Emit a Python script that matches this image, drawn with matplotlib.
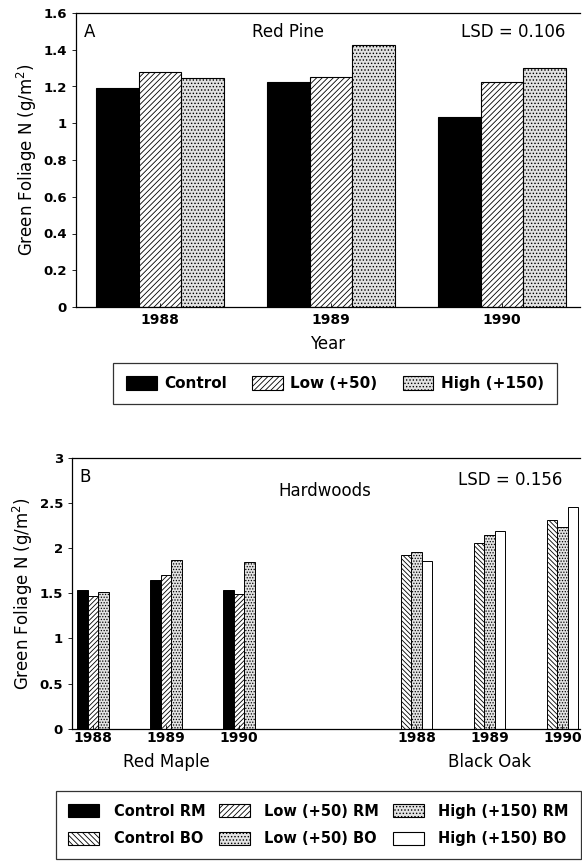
import numpy as np
import matplotlib
matplotlib.use("Agg")
import matplotlib.pyplot as plt
from matplotlib.patches import Patch

plt.rcParams['font.family'] = ['DejaVu Sans']
plt.rcParams['hatch.linewidth'] = 0.6

# Panel A: red pine foliage N by year
years = ['1988', '1989', '1990']
pine_control = [1.19, 1.226, 1.036]
pine_low = [1.277, 1.253, 1.223]
pine_high = [1.245, 1.426, 1.303]

# Panel B: hardwoods (red maple, black oak)
rm_control = [1.54, 1.65, 1.54]
rm_low = [1.475, 1.70, 1.49]
rm_high = [1.51, 1.87, 1.85]
bo_control = [1.93, 2.06, 2.31]
bo_low = [1.96, 2.145, 2.24]
bo_high = [1.86, 2.19, 2.455]

W, H = 582, 865
fig = plt.figure(figsize=(W / 100, H / 100), dpi=100)

def box(l, t, r, b):
    return [l / W, 1 - b / H, (r - l) / W, (b - t) / H]

def center(l, t, r, b):
    return ((l + r) / 2 / W, 1 - (t + b) / 2 / H)

dots = dict(facecolor='#e2e2e2', hatch='.....')
stripe_ne = dict(facecolor='white', hatch='//////')
stripe_nw = dict(facecolor='white', hatch='\\\\\\\\\\\\')

def style(ax):
    ax.spines['right'].set_visible(False)
    for s in ['left', 'top', 'bottom']:
        ax.spines[s].set_linewidth(0.9)
    ax.tick_params(axis='y', direction='out', length=3, width=0.6, labelsize=9.5)
    ax.tick_params(axis='x', direction='in', length=3, width=0.6, labelsize=10, pad=4)
    for lab in ax.get_xticklabels() + ax.get_yticklabels():
        lab.set_fontweight('bold')

# ---- Panel A ----
axA = fig.add_axes(box(76, 13, 580, 307))
x = np.arange(len(years))
w = 0.25
kw = dict(width=w, edgecolor='black', linewidth=0.8)
axA.bar(x - w, pine_control, color='black', **kw)
axA.bar(x, pine_low, **stripe_ne, **kw)
axA.bar(x + w, pine_high, **dots, **kw)
axA.set_xlim(-0.491, 2.456)
axA.set_ylim(0, 1.6)
axA.set_yticks(np.arange(0, 1.61, 0.2))
axA.set_yticklabels(['0', '0.2', '0.4', '0.6', '0.8', '1', '1.2', '1.4', '1.6'])
axA.set_xticks(x)
axA.set_xticklabels(years)
style(axA)
axA.set_xlabel('Year', fontsize=12, labelpad=6)
axA.set_ylabel('Green Foliage N (g/m$^2$)', fontsize=12, labelpad=3)
axA.text(0.015, 0.92, 'A', transform=axA.transAxes, fontsize=12)
axA.text(0.42, 0.92, 'Red Pine', transform=axA.transAxes, fontsize=12, ha='center')
axA.text(0.97, 0.92, 'LSD = 0.106', transform=axA.transAxes, fontsize=12, ha='right')

hA = [Patch(facecolor='black', edgecolor='black', lw=0.8),
      Patch(edgecolor='black', lw=0.8, **stripe_ne),
      Patch(edgecolor='black', lw=0.8, **dots)]
legA = fig.legend(hA, ['Control', 'Low (+50)', 'High (+150)'], ncol=3,
                  loc='center', bbox_to_anchor=center(112, 362, 558, 405),
                  fancybox=False, edgecolor='black',
                  handlelength=2.0, handleheight=1.0, handletextpad=0.5,
                  columnspacing=1.65, borderpad=0.85, borderaxespad=0,
                  prop=dict(size=11, weight='bold'))
legA.get_frame().set_linewidth(0.9)

# ---- Panel B ----
axB = fig.add_axes(box(72, 458, 580, 728.7))
xr = np.arange(3)
xb = xr + 4.43
wb = 0.144
kb = dict(width=wb, edgecolor='black', linewidth=0.7)
dots_b = dict(facecolor='#e2e2e2', hatch='......')
ne_b = dict(facecolor='white', hatch='///////')
nw_b = dict(facecolor='white', hatch='\\\\\\\\\\\\\\')
axB.bar(xr - wb, rm_control, color='black', **kb)
axB.bar(xr, rm_low, **ne_b, **kb)
axB.bar(xr + wb, rm_high, **dots_b, **kb)
axB.bar(xb - wb, bo_control, **nw_b, **kb)
axB.bar(xb, bo_low, **dots_b, **kb)
axB.bar(xb + wb, bo_high, facecolor='white', **kb)
axB.set_xlim(-0.288, 6.67)
axB.set_ylim(0, 3)
axB.set_yticks(np.arange(0, 3.01, 0.5))
axB.set_yticklabels(['0', '0.5', '1', '1.5', '2', '2.5', '3'])
axB.set_xticks(np.concatenate([xr, xb]))
axB.set_xticklabels(years + years)
style(axB)
axB.tick_params(axis='x', pad=2)
axB.set_ylabel('Green Foliage N (g/m$^2$)', fontsize=12, labelpad=3)
axB.text(0.015, 0.91, 'B', transform=axB.transAxes, fontsize=12)
axB.text(0.497, 0.86, 'Hardwoods', transform=axB.transAxes, fontsize=12, ha='center')
axB.text(0.965, 0.90, 'LSD = 0.156', transform=axB.transAxes, fontsize=12, ha='right')
axB.text(1, -0.14, 'Red Maple', transform=axB.get_xaxis_transform(), fontsize=12, ha='center')
axB.text(5.43, -0.14, 'Black Oak', transform=axB.get_xaxis_transform(), fontsize=12, ha='center')

hB = [Patch(facecolor='black', edgecolor='black', lw=0.8),
      Patch(edgecolor='black', lw=0.8, **stripe_nw),
      Patch(edgecolor='black', lw=0.8, **stripe_ne),
      Patch(edgecolor='black', lw=0.8, **dots),
      Patch(edgecolor='black', lw=0.8, **dots),
      Patch(facecolor='white', edgecolor='black', lw=0.8)]
labB = ['Control RM', 'Control BO', 'Low (+50) RM', 'Low (+50) BO',
        'High (+150) RM', 'High (+150) BO']
legB = fig.legend(hB, labB, ncol=3, loc='center',
                  bbox_to_anchor=center(57, 787, 580, 863),
                  fancybox=False, edgecolor='black', handlelength=2.1,
                  handleheight=1.0, handletextpad=1.0, labelspacing=0.85,
                  columnspacing=0.95, borderpad=0.85, borderaxespad=0,
                  prop=dict(size=10.5, weight='bold'))
legB.get_frame().set_linewidth(0.9)

fig.savefig('out.png', dpi=100)
